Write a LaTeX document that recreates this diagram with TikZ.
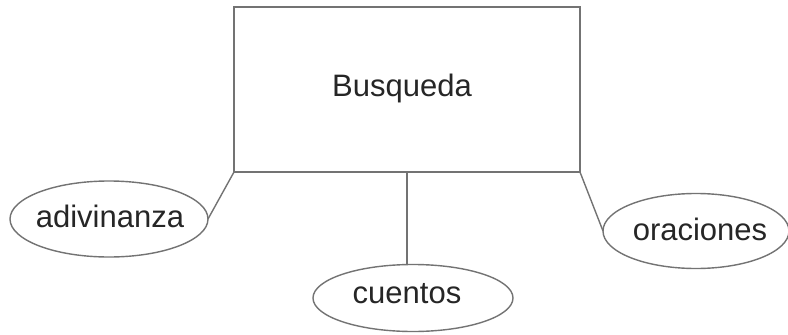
\documentclass[tikz,border=0pt]{standalone}
\usepackage{fontspec}
\setmainfont{Liberation Sans}
\usetikzlibrary{shapes.geometric}
\begin{document}
\begin{tikzpicture}[x=1pt,y=-1pt,
  ln/.style={draw=black!55,line width=1.4pt},
  ent/.style={ln,rectangle,inner sep=0pt,outer sep=0pt,fill=white},
  attr/.style={ln,ellipse,inner sep=0pt,outer sep=0pt,fill=white},
  lbl/.style={font=\fontsize{31}{36}\selectfont,text=black!85}]
\useasboundingbox (0,0) rectangle (788,335);
\node[ent,minimum width=346pt,minimum height=165pt] (box) at (407,89.5) {};
\node[lbl] (boxt) at (402,88) {Busqueda};
\node[attr,minimum width=198pt,minimum height=76pt] (adiv) at (109,219) {};
\node[lbl] (adivt) at (110,216) {adivinanza};
\node[attr,minimum width=200pt,minimum height=67pt] (cuen) at (413,298) {};
\node[lbl] (cuent) at (407,294) {cuentos};
\node[attr,minimum width=186pt,minimum height=75pt] (orac) at (696,231) {};
\node[lbl] (oract) at (700,229) {oraciones};
\draw[ln] (box.south west) -- (adiv.east);
\draw[ln] (box.south) -- (box.south |- cuen.north);
\draw[ln] (box.south east) -- (orac.west);
\end{tikzpicture}
\end{document}
